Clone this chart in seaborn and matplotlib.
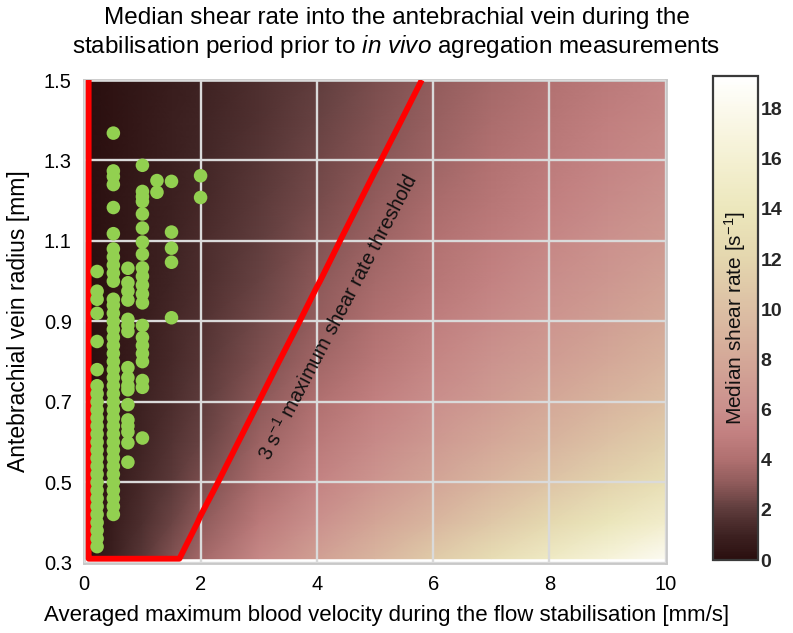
import numpy as np
import matplotlib
matplotlib.use("Agg")
import matplotlib.pyplot as plt
import seaborn as sns
import pandas as pd
from matplotlib.colors import LinearSegmentedColormap

# ---------------- data ----------------
# grid of estimated median shear rate [1/s] (rows: radius, cols: velocity)
grid_velocity = [0.075, 0.5, 1, 1.5, 2, 3, 4, 5, 6, 7, 8, 9, 10]
grid_radius = [0.31, 0.4, 0.5, 0.6, 0.7, 0.8, 0.9, 1.0, 1.1, 1.2, 1.3, 1.4, 1.5]
shear_table = [
    [0.14, 0.92, 1.84, 2.75, 3.67, 5.51, 7.34, 9.18, 11.01, 12.85, 14.68, 16.52, 18.35],
    [0.12, 0.77, 1.54, 2.31, 3.08, 4.62, 6.15, 7.69, 9.23, 10.77, 12.31, 13.85, 15.39],
    [0.10, 0.65, 1.30, 1.96, 2.61, 3.91, 5.22, 6.52, 7.83, 9.13, 10.44, 11.74, 13.04],
    [0.08, 0.57, 1.13, 1.70, 2.26, 3.40, 4.53, 5.66, 6.79, 7.92, 9.06, 10.19, 11.32],
    [0.08, 0.50, 1.00, 1.50, 2.00, 3.00, 4.00, 5.00, 6.00, 7.00, 8.00, 9.00, 10.00],
    [0.07, 0.45, 0.90, 1.34, 1.79, 2.69, 3.58, 4.48, 5.37, 6.27, 7.16, 8.06, 8.96],
    [0.06, 0.41, 0.81, 1.22, 1.62, 2.43, 3.24, 4.05, 4.86, 5.68, 6.49, 7.30, 8.11],
    [0.06, 0.37, 0.74, 1.11, 1.48, 2.22, 2.96, 3.70, 4.44, 5.18, 5.93, 6.67, 7.41],
    [0.05, 0.34, 0.68, 1.02, 1.36, 2.05, 2.73, 3.41, 4.09, 4.77, 5.45, 6.14, 6.82],
    [0.05, 0.32, 0.63, 0.95, 1.26, 1.89, 2.53, 3.16, 3.79, 4.42, 5.05, 5.68, 6.32],
    [0.04, 0.29, 0.59, 0.88, 1.18, 1.76, 2.35, 2.94, 3.53, 4.12, 4.71, 5.29, 5.88],
    [0.04, 0.28, 0.55, 0.83, 1.10, 1.65, 2.20, 2.75, 3.30, 3.85, 4.40, 4.95, 5.50],
    [0.04, 0.26, 0.52, 0.78, 1.03, 1.55, 2.07, 2.59, 3.10, 3.62, 4.14, 4.65, 5.17],
]
threshold = 3.0
shear_max = 19.3

# measured subjects: velocity [mm/s] and radius [mm]
radius_v022 = [0.34, 0.36, 0.38, 0.40, 0.42, 0.44, 0.46, 0.48, 0.50, 0.52, 0.54,
               0.56, 0.58, 0.60, 0.62, 0.64, 0.66, 0.68, 0.70, 0.72, 0.74,
               0.78, 0.85, 0.92, 0.955, 0.975, 1.024]
radius_v05 = [0.42, 0.44, 0.46, 0.48, 0.50, 0.52, 0.54, 0.56, 0.58, 0.60, 0.62,
              0.64, 0.66, 0.68, 0.70, 0.72, 0.74, 0.76, 0.78, 0.80, 0.82, 0.84,
              0.86, 0.88, 0.90, 0.92, 0.94, 0.955, 1.00, 1.02, 1.04, 1.06, 1.08,
              1.118, 1.183, 1.24, 1.26, 1.274, 1.368]
radius_v075 = [0.55, 0.598, 0.625, 0.64, 0.655, 0.693, 0.73, 0.74, 0.76, 0.785,
               0.875, 0.89, 0.905, 0.953, 0.975, 0.996, 1.032]
radius_v10 = [0.61, 0.736, 0.753, 0.80, 0.82, 0.84, 0.86, 0.89, 0.946, 0.968,
              0.99, 1.012, 1.033, 1.067, 1.097, 1.132, 1.167, 1.198, 1.21,
              1.223, 1.288]
radius_v125 = [1.221, 1.25]
radius_v15 = [0.909, 1.047, 1.082, 1.122, 1.248]
radius_v20 = [1.208, 1.262]
column_velocity = [0.22, 0.5, 0.75, 1.0, 1.25, 1.5, 2.0]
column_radii = [radius_v022, radius_v05, radius_v075, radius_v10,
                radius_v125, radius_v15, radius_v20]

x_ticks = [0, 2, 4, 6, 8, 10]
y_ticks = [0.3, 0.5, 0.7, 0.9, 1.1, 1.3, 1.5]
cbar_ticks = [0, 2, 4, 6, 8, 10, 12, 14, 16, 18]

# ---------------- style ----------------
sns.set_theme(style="white")
plt.rcParams["font.family"] = ["Liberation Sans", "DejaVu Sans"]
plt.rcParams["text.color"] = "black"
plt.rcParams["axes.labelcolor"] = "black"
plt.rcParams["mathtext.fontset"] = "custom"
plt.rcParams["mathtext.rm"] = "Liberation Sans"
plt.rcParams["mathtext.it"] = "Liberation Sans:italic"

cmap_stops = [0, 1, 2, 3, 4, 5, 6, 8, 10, 12, 14, 16, 18, shear_max]
cmap_colors = ["#2a0f0f", "#3e2222", "#5e3c3c", "#8e5a5a", "#b07070", "#c28080",
               "#ca8f8c", "#d4a898", "#dcbfa4", "#e4d6ae", "#ece7bc", "#f4f0d2",
               "#fbf9ec", "#ffffff"]
cmap = LinearSegmentedColormap.from_list(
    "shear", [(s / shear_max, c) for s, c in zip(cmap_stops, cmap_colors)])

fig = plt.figure(figsize=(7.93, 6.33), dpi=100)
ax = fig.add_axes([0.1063, 0.111, 0.7332, 0.7626])
cax = fig.add_axes([0.899, 0.1153, 0.0567, 0.7647])

V, R = np.meshgrid(grid_velocity, grid_radius)
Z = np.array(shear_table)
mesh = ax.pcolormesh(V, R, Z, cmap=cmap, vmin=0, vmax=shear_max,
                     shading="gouraud", zorder=0)

# threshold outline (outside of the measured grid counts as above threshold)
eps_v, eps_r = 1e-3, 1e-3
Vp = np.concatenate([[grid_velocity[0] - eps_v], grid_velocity])
Rp = np.concatenate([[grid_radius[0] - eps_r], grid_radius])
Zp = np.pad(Z, ((1, 0), (1, 0)), constant_values=1e6)
ax.contour(Vp, Rp, Zp, levels=[threshold], colors="#ff0000",
           linewidths=4.2, zorder=3)

ax.grid(True, color="#dadada", linewidth=1.7, zorder=2)
ax.set_axisbelow(False)

pts = pd.DataFrame({
    "velocity": np.concatenate([[v] * len(rs) for v, rs in zip(column_velocity, column_radii)]),
    "radius": np.concatenate(column_radii),
})
sns.scatterplot(data=pts, x="velocity", y="radius", ax=ax, color="#92d050",
                s=95, edgecolor="none", linewidth=0, zorder=4)

ax.set_xlim(0, 10)
ax.set_ylim(0.3, 1.5)
ax.set_xticks(x_ticks)
ax.set_xticklabels([str(t) for t in x_ticks])
ax.set_yticks(y_ticks)
ax.set_yticklabels([f"{t:.1f}" for t in y_ticks])
ax.tick_params(axis="both", length=0, labelsize=14.5, pad=9, colors="black")
ax.set_xlabel("Averaged maximum blood velocity during the flow stabilisation [mm/s]",
              fontsize=16, labelpad=9)
ax.xaxis.set_label_coords(0.52, -0.088)
ax.set_ylabel("Antebrachial vein radius [mm]", fontsize=16.5, labelpad=10)
for sp in ax.spines.values():
    sp.set_color("#c8c8c8")
    sp.set_linewidth(2)

ax.text(4.37, 0.911, r"3 s$^{-1}$ maximum shear rate threshold", rotation=62.4,
        ha="center", va="center", rotation_mode="anchor", fontsize=14.4, color="#111111",
        zorder=5)

cb = fig.colorbar(mesh, cax=cax, ticks=cbar_ticks)
cb.outline.set_edgecolor("#3a3a3a")
cb.outline.set_linewidth(1.6)
cax.tick_params(left=True, right=False, labelleft=False, labelright=True,
                direction="in", length=4, width=0.8, color="#555555",
                labelsize=14, pad=2)
for lab in cax.get_yticklabels():
    lab.set_fontweight("bold")
cax.text(0.5, 0.5, r"Median shear rate [s$^{-1}$]", rotation=90, transform=cax.transAxes,
         ha="center", va="center", fontsize=15, color="#111111")

fig.text(0.5, 0.971, "Median shear rate into the antebrachial vein during the",
         ha="center", va="center", fontsize=17.5)
fig.text(0.5, 0.926, r"stabilisation period prior to $\it{in\ vivo}$ agregation measurements",
         ha="center", va="center", fontsize=17.5)

fig.savefig("out.png", dpi=100)
